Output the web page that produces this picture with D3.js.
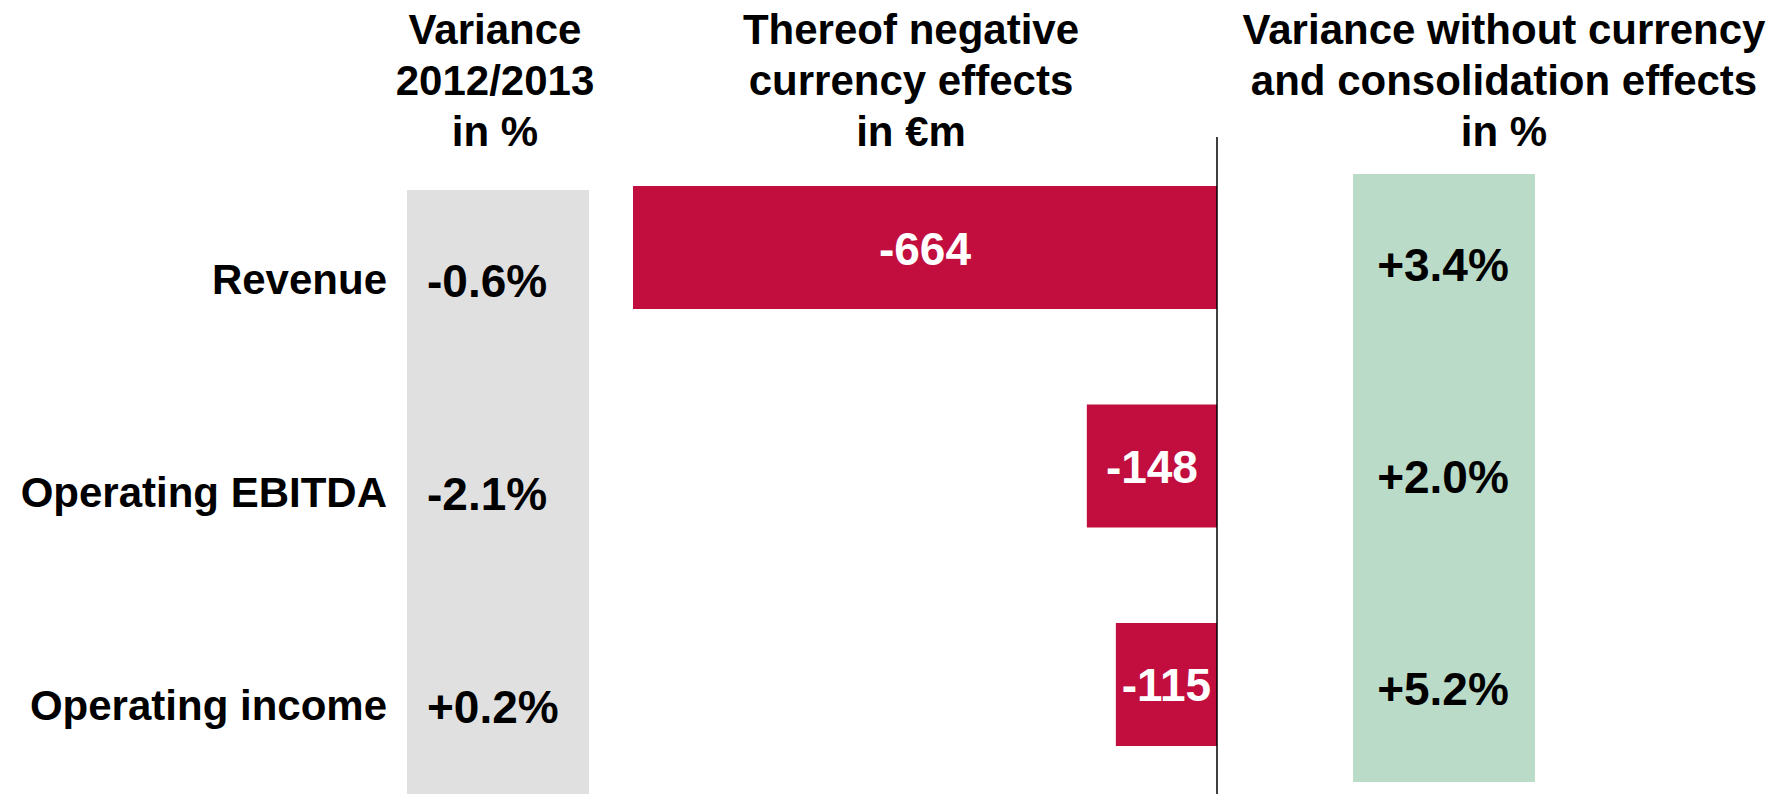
<!DOCTYPE html>
<html lang="en">

<head>
  <meta charset="UTF-8">
  <title>Currency effects</title>
  <script src="https://cdn.jsdelivr.net/npm/d3@7"></script>
  <style>
    body { margin: 0; background: #fff; }
    svg { display: block; font-family: "Liberation Sans", Arial, sans-serif; font-weight: bold; }
  </style>
</head>

<body>
  <svg width="1785" height="794" id="chart"></svg>
  <script>
    // data
    var categories = ["Revenue", "Operating EBITDA", "Operating income"]
    var variancePct = [-0.6, -2.1, 0.2]
    var currencyEffects = [-664, -148, -115]
    var adjustedPct = [3.4, 2.0, 5.2]

    var header1 = ["Variance", "2012/2013", "in %"]
    var header2 = ["Thereof negative", "currency effects", "in €m"]
    var header3 = ["Variance without currency", "and consolidation effects", "in %"]

    var red = "#c20e3e", grey = "#e0e0e0", green = "#b9dbc8"

    function pct(v) { return (v < 0 ? "-" : "+") + Math.abs(v).toFixed(1) + "%" }

    var svg = d3.select("#chart"),
      W = +svg.attr("width"),
      H = +svg.attr("height")

    // scales
    var yBar = d3.scaleBand().domain(categories).range([186, 746]).paddingInner(0.437).paddingOuter(0)
    var yLabel = d3.scalePoint().domain(categories).range([294, 720])
    var yGreen = d3.scalePoint().domain(categories).range([281, 705])
    var xScale = d3.scaleLinear().domain([d3.min(currencyEffects), 0]).range([633, 1217])

    // background columns
    svg.append("rect")
      .attr("x", 407).attr("y", 190)
      .attr("width", 182).attr("height", H - 190)
      .style("fill", grey)

    svg.append("rect")
      .attr("x", 1353).attr("y", 174)
      .attr("width", 182).attr("height", 608)
      .style("fill", green)

    // headers
    function header(lines, cx) {
      svg.append("g").selectAll("text")
        .data(lines)
        .enter()
        .append("text")
        .attr("x", cx)
        .attr("y", function (d, i) { return 44 + i * 51 })
        .attr("text-anchor", "middle")
        .style("font-size", "42px")
        .style("fill", "#000")
        .text(function (d) { return d })
    }
    header(header1, 495)
    header(header2, 911)
    header(header3, 1504)

    // category labels
    svg.append("g").selectAll("text")
      .data(categories)
      .enter()
      .append("text")
      .attr("x", 387)
      .attr("y", function (d) { return yLabel(d) })
      .attr("text-anchor", "end")
      .style("font-size", "42px")
      .text(function (d) { return d })

    // variance values (grey column)
    svg.append("g").selectAll("text")
      .data(variancePct)
      .enter()
      .append("text")
      .attr("x", 427)
      .attr("y", function (d, i) { return yLabel(categories[i]) + 3 })
      .style("font-size", "46px")
      .text(function (d) { return pct(d) })

    // currency effect bars
    svg.append("g").selectAll("rect")
      .data(currencyEffects)
      .enter()
      .append("rect")
      .attr("x", function (d) { return xScale(d) })
      .attr("y", function (d, i) { return yBar(categories[i]) })
      .attr("width", function (d) { return xScale(0) - xScale(d) })
      .attr("height", yBar.bandwidth())
      .style("fill", red)

    svg.append("g").selectAll("text")
      .data(currencyEffects)
      .enter()
      .append("text")
      .attr("x", function (d) { return (xScale(d) + xScale(0)) / 2 })
      .attr("y", function (d, i) { return yBar(categories[i]) + yBar.bandwidth() / 2 + 17 })
      .attr("text-anchor", "middle")
      .style("font-size", "46px")
      .style("fill", "#fff")
      .text(function (d) { return d })

    // zero line
    svg.append("line")
      .attr("x1", xScale(0)).attr("x2", xScale(0))
      .attr("y1", 137).attr("y2", H)
      .style("stroke", "#000")
      .style("stroke-width", 1.5)

    // adjusted variance (green column)
    svg.append("g").selectAll("text")
      .data(adjustedPct)
      .enter()
      .append("text")
      .attr("x", 1443)
      .attr("y", function (d, i) { return yGreen(categories[i]) })
      .attr("text-anchor", "middle")
      .style("font-size", "46px")
      .text(function (d) { return pct(d) })
  </script>
</body>

</html>
